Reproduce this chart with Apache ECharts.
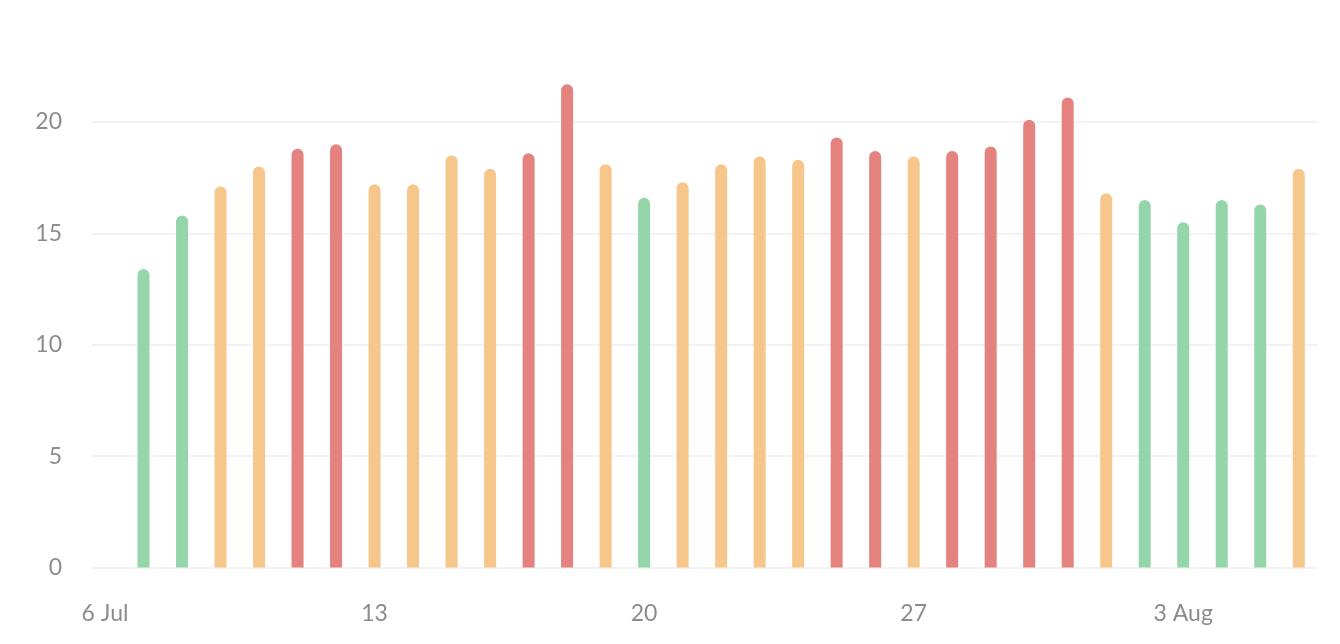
<!DOCTYPE html>
<html>
<head>
<meta charset="utf-8">
<script src="https://cdn.jsdelivr.net/npm/echarts@6/dist/echarts.min.js"></script>
<style>
html,body{margin:0;padding:0;background:#fff;}
#chart{width:1340px;height:644px;}
</style>
</head>
<body>
<div id="chart"></div>
<script>
// Dates (one bar per day)
const dates = [
  '2020-07-07','2020-07-08','2020-07-09','2020-07-10','2020-07-11','2020-07-12','2020-07-13',
  '2020-07-14','2020-07-15','2020-07-16','2020-07-17','2020-07-18','2020-07-19','2020-07-20',
  '2020-07-21','2020-07-22','2020-07-23','2020-07-24','2020-07-25','2020-07-26','2020-07-27',
  '2020-07-28','2020-07-29','2020-07-30','2020-07-31','2020-08-01','2020-08-02','2020-08-03',
  '2020-08-04','2020-08-05','2020-08-06'
];
const values = [
  13.4, 15.8, 17.1, 18.0, 18.8, 19.0, 17.2,
  17.2, 18.5, 17.9, 18.6, 21.7, 18.1, 16.6,
  17.3, 18.1, 18.45, 18.3, 19.3, 18.7, 18.45,
  18.7, 18.9, 20.1, 21.1, 16.8, 16.5, 15.5,
  16.5, 16.3, 17.9
];
const tickDates = ['2020-07-06','2020-07-13','2020-07-20','2020-07-27','2020-08-03'];
const tickLabels = ['6 Jul','13','20','27','3 Aug'];

// colour bands
const lowLimit = 16.7, highLimit = 18.55;
const colors = { low: '#94d6aa', mid: '#f7c68b', high: '#e3827e' };

// day offsets from the first tick date (x axis is in days)
const DAY = 86400000;
const parse = s => +echarts.time.parse(s);
const origin = parse(tickDates[0]);
const dayOf = s => Math.round((parse(s) - origin) / DAY);
const tickDays = tickDates.map(dayOf);

const chart = echarts.init(document.getElementById('chart'), null, {renderer: 'canvas'});
const font = 'Lato, "Open Sans", sans-serif';
chart.setOption({
  animation: false,
  grid: { left: 92, right: 22, top: 122, bottom: 76.5, containLabel: false },
  visualMap: {
    show: false,
    type: 'piecewise',
    dimension: 1,
    seriesIndex: 0,
    pieces: [
      { lt: lowLimit, color: colors.low },
      { gte: lowLimit, lt: highLimit, color: colors.mid },
      { gte: highLimit, color: colors.high }
    ]
  },
  xAxis: {
    type: 'value',
    min: -0.338,
    max: 31.5,
    axisLine: { show: false },
    axisTick: { show: false },
    splitLine: { show: false },
    axisLabel: {
      customValues: tickDays,
      color: '#8c8c8c',
      fontFamily: font,
      fontSize: 23,
      margin: 35,
      hideOverlap: false,
      formatter: function (v) {
        const i = tickDays.indexOf(Math.round(v));
        return i >= 0 ? tickLabels[i] : '';
      }
    }
  },
  yAxis: {
    type: 'value',
    min: 0,
    max: 20,
    interval: 5,
    axisLine: { show: false },
    axisTick: { show: false },
    splitLine: { show: true, lineStyle: { color: '#f2f2f2', width: 2 } },
    axisLabel: {
      color: '#8c8c8c',
      fontFamily: font,
      fontSize: 23,
      margin: 30
    }
  },
  series: [{
    type: 'bar',
    clip: false,
    barWidth: 12,
    itemStyle: { borderRadius: [6, 6, 0, 0] },
    data: dates.map((d, i) => [dayOf(d), values[i]])
  }]
});
</script>
</body>
</html>
